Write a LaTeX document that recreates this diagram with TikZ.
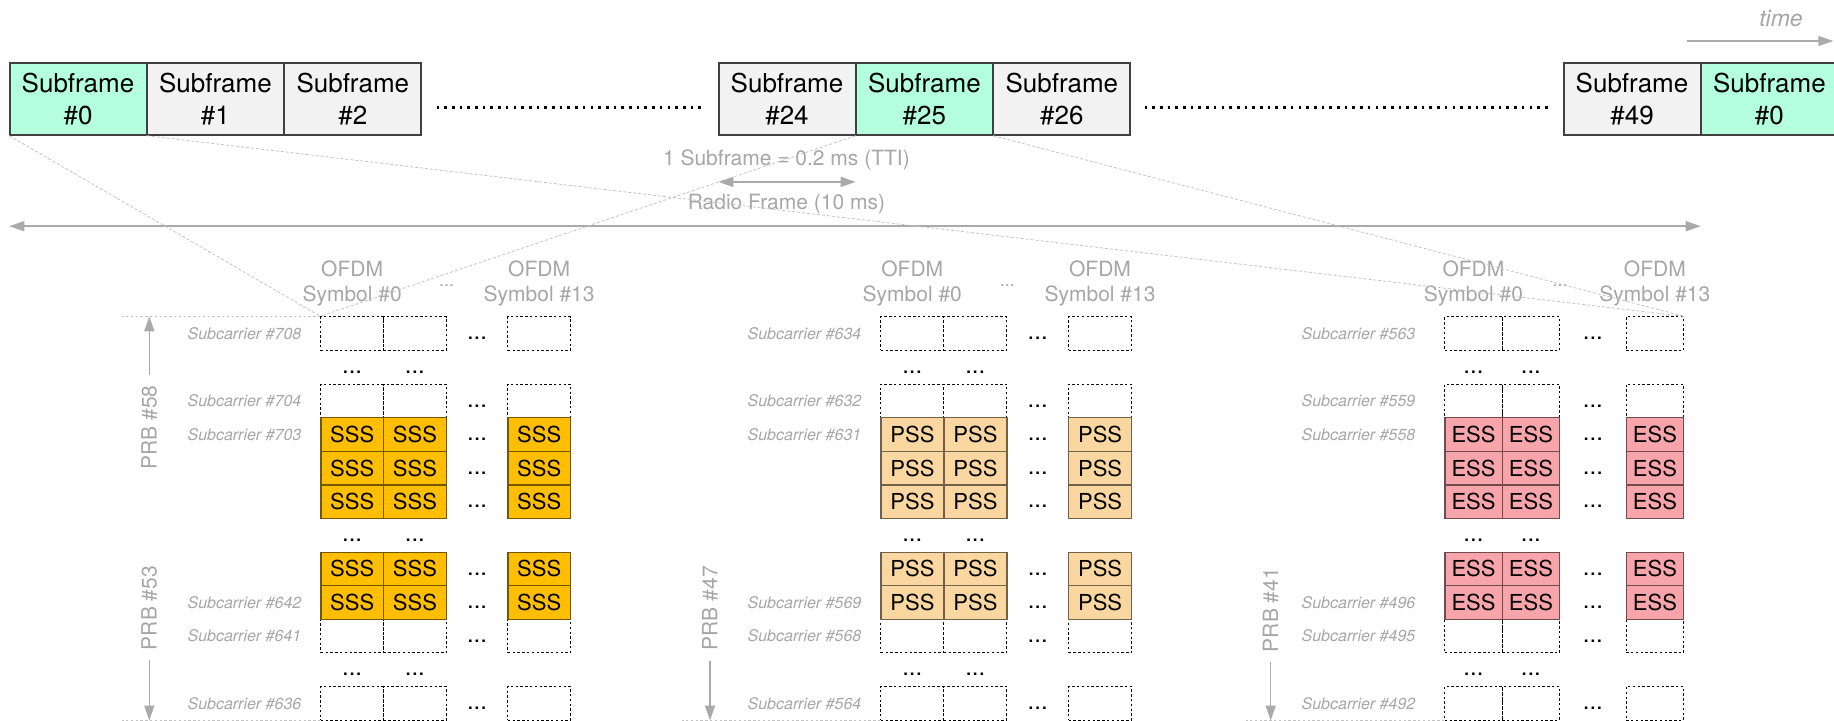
\documentclass[tikz,border=0pt]{standalone}
\usepackage{fontspec}
\setmainfont{TeX Gyre Heros}
\usetikzlibrary{arrows.meta,calc}

\definecolor{sfgreen}{RGB}{179,255,222}
\definecolor{sfgray}{RGB}{242,242,242}
\definecolor{sssfill}{RGB}{255,191,0}
\definecolor{pssfill}{RGB}{250,215,160}
\definecolor{essfill}{RGB}{248,164,171}
\definecolor{txtgray}{RGB}{166,166,166}
\definecolor{linegray}{RGB}{170,170,170}

\begin{document}
\begin{tikzpicture}[x=0.5pt, y=-0.5pt, >={Triangle[length=7.5pt,width=5pt]},
    sfbox/.style={draw=black!75, line width=0.6pt, minimum width=68.1pt, minimum height=36pt,
      inner sep=0pt, align=center, font=\fontsize{13}{15.8}\selectfont},
    graylbl/.style={text=txtgray, align=center, font=\fontsize{10.5}{12.5}\selectfont},
    timelbl/.style={text=txtgray, font=\fontsize{11.5}{13}\selectfont\itshape},
    scarlbl/.style={text=txtgray, anchor=east, inner sep=0pt, font=\fontsize{8}{9.6}\selectfont\itshape},
    prblbl/.style={graylbl, rotate=90, inner sep=5pt},
    emptycell/.style={draw=black, line width=0.5pt, dash pattern=on 1.2pt off 1.2pt,
      inner sep=0pt, minimum height=16.8pt, anchor=north west},
    sigcell/.style={draw=#1!45!black, line width=0.6pt, fill=#1, inner sep=0pt,
      minimum height=16.8pt, anchor=north west, font=\fontsize{11}{13}\selectfont},
    dotsnode/.style={inner sep=0pt, font=\fontsize{12}{14}\selectfont},
    grayline/.style={draw=linegray, line width=0.75pt},
    prbarrow/.style={grayline, ->},
    guideline/.style={draw=linegray!70, line width=0.4pt, dash pattern=on 1.2pt off 1.2pt},
    zoomline/.style={draw=linegray!70, line width=0.4pt, dash pattern=on 1.5pt off 1pt},
    sfdots/.style={line width=1.3pt, dash pattern=on 1.3pt off 2.55pt}]
  \useasboundingbox (0,0) rectangle (1834,721);

  % subframes
  \node[sfbox, fill=sfgreen, anchor=north west] (sf0) at (9.3,62.5) {Subframe\\\#0};
  \node[sfbox, fill=sfgray, anchor=west] (sf1) at (sf0.east) {Subframe\\\#1};
  \node[sfbox, fill=sfgray, anchor=west] (sf2) at (sf1.east) {Subframe\\\#2};
  \node[sfbox, fill=sfgray, anchor=north west] (sf24) at (718.3,62.5) {Subframe\\\#24};
  \node[sfbox, fill=sfgreen, anchor=west] (sf25) at (sf24.east) {Subframe\\\#25};
  \node[sfbox, fill=sfgray, anchor=west] (sf26) at (sf25.east) {Subframe\\\#26};
  \node[sfbox, fill=sfgray, anchor=north west] (sf49) at (1563.3,62.5) {Subframe\\\#49};
  \node[sfbox, fill=sfgreen, anchor=west] (sfnext) at (sf49.east) {Subframe\\\#0};
  \draw[sfdots] ([xshift=7.5pt,yshift=-4.1pt]sf2.east) -- ([xshift=-8.5pt,yshift=-4.1pt]sf24.west);
  \draw[sfdots] ([xshift=7pt,yshift=-4.1pt]sf26.east) -- ([xshift=-7pt,yshift=-4.1pt]sf49.west);

  % time axis
  \node[timelbl] (time) at (1781,18.3) {time};
  \coordinate (timestart) at (1686.7,41);
  \coordinate (timeend) at (1833.3,41);
  \draw[grayline, ->] (timestart) -- (timeend);

  % durations
  \node[graylbl] (tti) at (786.4,160) {1 Subframe = 0.2 ms (TTI)};
  \draw[grayline, <->] ([yshift=-23.1pt]sf24.south west) -- ([yshift=-23.1pt]sf24.south east);
  \node[graylbl] (radio) at (786.4,204) {Radio Frame (10 ms)};
  \draw[grayline, <->] ([yshift=-45.25pt]sf0.south west) -- ([yshift=-45.25pt]sf49.south east);

  % resource grids
  \foreach \g/\xa/\xb/\xc/\cw/\gap/\sigc/\sig/\numa/\numb/\numc/\numd/\nume/\numf in {
      1/320.3/383/507.3/31.35pt/9.3pt/sssfill/SSS/708/704/703/642/641/636,
      2/880.3/943.3/1068/31.5pt/9.3pt/pssfill/PSS/634/632/631/569/568/564,
      3/1444.3/1501.7/1625.7/28.65pt/14.3pt/essfill/ESS/563/559/558/496/495/492}{
    \foreach \cl/\cx in {a/\xa, b/\xb, c/\xc}{
      \foreach \row in {0,2,9,11}
        \node[emptycell, minimum width=\cw] (g\g-\cl-\row) at (\cx,316.3+33.6*\row) {};
      \foreach \row in {3,4,5,7,8}
        \node[sigcell=\sigc, minimum width=\cw] (g\g-\cl-\row) at (\cx,316.3+33.6*\row) {\sig};
    }
    \foreach \row in {0,2,3,4,5,7,8,9,11}
      \node[dotsnode] (g\g-gap-\row) at ($(g\g-b-\row.east)!0.5!(g\g-c-\row.west)+(0,5)$) {...};
    \foreach \row in {1,6,10}
      \foreach \cl in {a,b}
        \node[dotsnode] (g\g-\cl-\row) at ($(g\g-\cl-0.center)+(0,33.6*\row+5)$) {...};
    \foreach \row/\num in {0/\numa,2/\numb,3/\numc,8/\numd,9/\nume,11/\numf}
      \node[scarlbl] (g\g-lbl-\row) at ([xshift=-\gap]g\g-a-\row.west) {Subcarrier \#\num};
    \node[graylbl] (g\g-hda) at (g\g-a-0.center |- 0,283) {OFDM\\Symbol \#0};
    \node[graylbl] (g\g-hdc) at (g\g-c-0.center |- 0,283) {OFDM\\Symbol \#13};
    \node[graylbl, inner sep=0pt, font=\fontsize{9}{10}\selectfont] (g\g-hddots) at (g\g-b-0.north east |- 0,286) {...};
    \draw[guideline] (g\g-a-11.south west) -- ([xshift=-99pt]g\g-a-11.south west);
  }
  \draw[guideline] (g1-a-0.north west) -- ([xshift=-99pt]g1-a-0.north west);

  % PRB markers
  \node[prblbl] (prb58) at (149.3,427.5) {PRB \#58};
  \node[prblbl] (prb53) at (149.3,608) {PRB \#53};
  \node[prblbl] (prb47) at (710,608.3) {PRB \#47};
  \node[prblbl] (prb41) at (1270.7,610) {PRB \#41};
  \draw[prbarrow] (prb58) -- (prb58 |- g1-a-0.north);
  \draw[prbarrow] (prb53) -- (prb53 |- g1-a-11.south);
  \draw[prbarrow] (prb47) -- (prb47 |- g2-a-11.south);
  \draw[prbarrow] (prb41) -- (prb41 |- g3-a-11.south);

  % zoom lines
  \draw[zoomline] (sf0.south west) -- (g1-a-0.north west);
  \draw[zoomline] (sf25.south west) -- (g1-a-0.north west);
  \draw[zoomline] (sf0.south east) -- (g3-c-0.north east);
  \draw[zoomline] (sf25.south east) -- (g3-c-0.north east);
\end{tikzpicture}
\end{document}
